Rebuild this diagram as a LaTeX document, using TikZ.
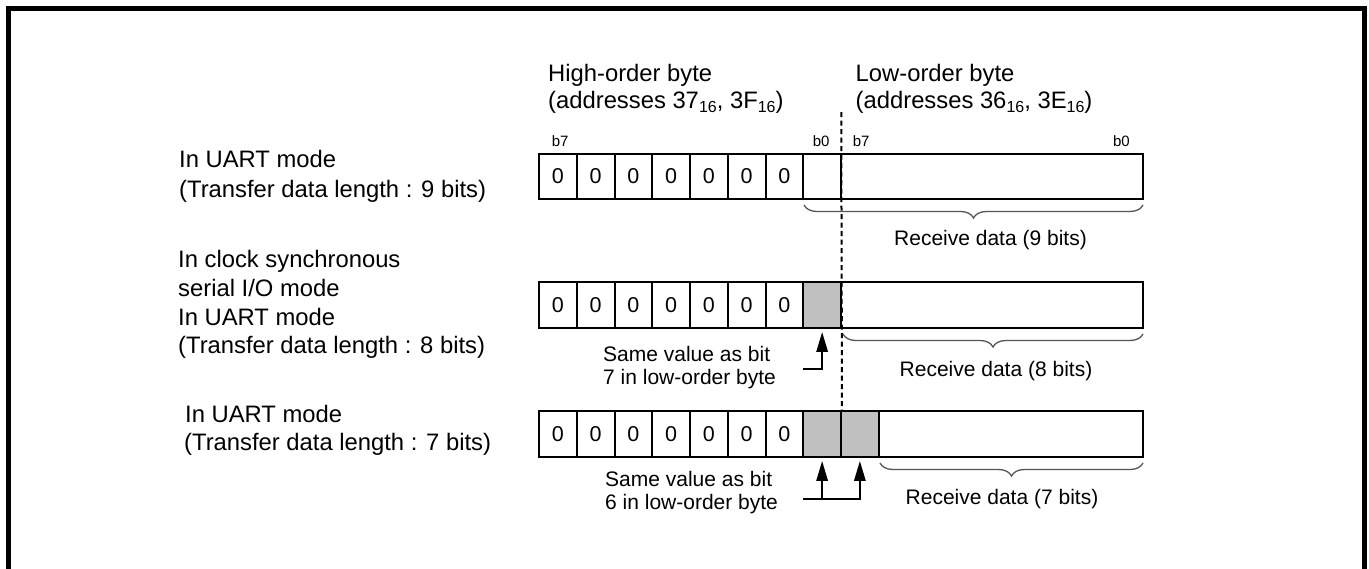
\documentclass[tikz,border=0pt]{standalone}
\usepackage{fontspec}
\setmainfont{Liberation Sans}
\usetikzlibrary{arrows.meta,decorations.pathreplacing}
\definecolor{cellgray}{RGB}{192,192,192}
\definecolor{bracegray}{RGB}{85,85,85}
\newcommand{\hexsub}[1]{\raisebox{-4.5pt}{\fontsize{16}{16}\selectfont #1}}
\begin{document}
\begin{tikzpicture}[x=1pt,y=-1pt,
  lbl/.style={inner sep=0pt, anchor=base west},
  big/.style={font=\fontsize{23.8}{28}\selectfont},
  mid/.style={font=\fontsize{21}{24}\selectfont},
  tiny/.style={font=\fontsize{15}{18}\selectfont},
  cell/.style={draw, line width=2pt, minimum width=37.75pt, minimum height=45.5pt, inner sep=0pt, font=\fontsize{21.5}{24}\selectfont},
  shaded/.style={fill=cellgray},
  ptr/.style={line width=2.7pt, -{Triangle[length=20pt,width=11pt]}, shorten >=3pt},
  bracepath/.style={decorate, decoration={brace, mirror, amplitude=13pt, aspect=0.5}, draw=bracegray, line width=1.3pt},
  divider/.style={line width=2pt, dash pattern=on 5pt off 3.5pt}
]
\useasboundingbox (0,0) rectangle (1369,568);
\fill[white] (0,0) rectangle (1369,568);
% outer frame
\draw[line width=5pt] (8.5,8.5) rectangle (1364,585);

% titles
\node[lbl,big] (hi1) at (548,81) {High-order byte};
\node[lbl,big] (hi2) at (548,108) {(addresses 37\hexsub{16}, 3F\hexsub{16})};
\node[lbl,big] (lo1) at (855.5,81) {Low-order byte};
\node[lbl,big] (lo2) at (855.5,108) {(addresses 36\hexsub{16}, 3E\hexsub{16})};

% bit labels
\node[lbl,tiny] (bh7) at (551.7,146) {b7};
\node[lbl,tiny] (bh0) at (812.7,146) {b0};
\node[lbl,tiny] (bl7) at (852.7,146) {b7};
\node[inner sep=0pt, anchor=base east, tiny] (bl0) at (1130,146) {b0};

% rows of cells
\foreach \r/\yc in {1/176.5, 2/305, 3/434} {
  \foreach \k in {0,...,6} {
    \node[cell] (r\r c\k) at ({539+37.75*(\k+0.5)}, \yc) {0};
  }
}
\node[cell] (r1c7) at ({539+37.75*7.5},176.5) {};
\node[cell] (r1w) at (992.1,176.5) [minimum width=302.2pt] {};
\node[cell,shaded] (r2c7) at ({539+37.75*7.5},305) {};
\node[cell] (r2w) at (992.1,305) [minimum width=302.2pt] {};
\node[cell,shaded] (r3c7) at ({539+37.75*7.5},434) {};
\node[cell,shaded] (r3c8) at ({539+37.75*8.5},434) {};
\node[cell] (r3w) at (1010.9,434) [minimum width=264.5pt] {};

% dashed divider
\coordinate (dtop) at (841.25,112);
\draw[divider] (dtop) -- (r3c7.north east);

% braces
\draw[bracepath] (804,205) -- (1143,205);
\draw[bracepath] (843,334) -- (1143,334);
\draw[bracepath] (880,463) -- (1143,463);

% receive labels
\node[lbl,mid] (rx1) at (894,245) {Receive data (9 bits)};
\node[lbl,mid] (rx2) at (899.5,376) {Receive data (8 bits)};
\node[lbl,mid] (rx3) at (905.5,504) {Receive data (7 bits)};

% pointers
\coordinate (p2) at (803,369);
\draw[ptr] (p2) -| (r2c7.south);
\coordinate (p3) at (803,499);
\draw[ptr] (p3) -| (r3c8.south);
\draw[ptr] (p3 -| r3c7.south) -- (r3c7.south);

% same value notes
\node[lbl,mid] (s2a) at (603,361) {Same value as bit};
\node[lbl,mid] (s2b) at (603,384.5) {7 in low-order byte};
\node[lbl,mid] (s3a) at (605,486) {Same value as bit};
\node[lbl,mid] (s3b) at (605,509) {6 in low-order byte};

% mode descriptions
\node[lbl,big] (m1a) at (179,167) {In UART mode};
\node[lbl,big] (m1b) at (179,197) {(Transfer data length : 9 bits)};
\node[lbl,big] (m2a) at (178,267) {In clock synchronous};
\node[lbl,big] (m2b) at (178,296) {serial I/O mode};
\node[lbl,big] (m2c) at (178,325) {In UART mode};
\node[lbl,big] (m2d) at (178,353) {(Transfer data length : 8 bits)};
\node[lbl,big] (m3a) at (185,422) {In UART mode};
\node[lbl,big] (m3b) at (184,450) {(Transfer data length : 7 bits)};
\end{tikzpicture}
\end{document}
